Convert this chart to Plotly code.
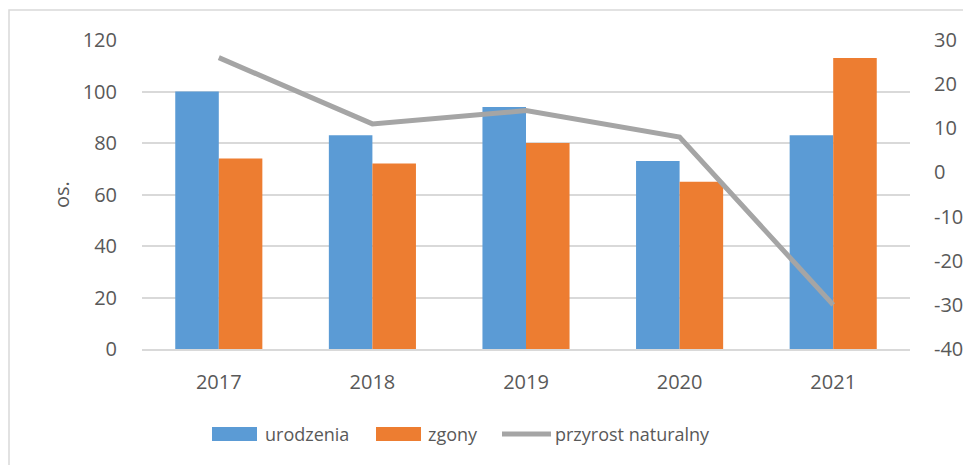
import plotly.graph_objects as go

years = ["2017", "2018", "2019", "2020", "2021"]
urodzenia = [100, 83, 94, 73, 83]
zgony = [74, 72, 80, 65, 113]
przyrost = [26, 11, 14, 8, -30]
left_ticks = [0, 20, 40, 60, 80, 100, 120]
right_ticks = [-40, -30, -20, -10, 0, 10, 20, 30]

# page has an 8px body margin; figure coordinates below are relative to the figure
W, H = 963, 457
L, R, T, B = 134, 61, 32, 116
pw, ph = W - L - R, H - T - B

def px(x):
    return (x - L) / pw

def py(y):
    return (H - B - y) / ph

tickfont = dict(family="Open Sans, Liberation Sans, sans-serif", size=20, color="#595959")
legfont = dict(family="Open Sans, Liberation Sans, sans-serif", size=18, color="#595959")

colors = {"urodzenia": "#5B9BD5", "zgony": "#ED7D31", "przyrost naturalny": "#A5A5A5"}

fig = go.Figure()
fig.add_trace(go.Bar(x=years, y=urodzenia, name="urodzenia",
                     marker=dict(color=colors["urodzenia"], line=dict(width=0))))
fig.add_trace(go.Bar(x=years, y=zgony, name="zgony",
                     marker=dict(color=colors["zgony"], line=dict(width=0))))
fig.add_trace(go.Scatter(x=years, y=przyrost, name="przyrost naturalny", mode="lines",
                         line=dict(color=colors["przyrost naturalny"], width=5), yaxis="y2"))

shapes = [dict(type="rect", xref="paper", yref="paper",
               x0=px(1), x1=px(990), y0=py(490), y1=py(2),
               line=dict(color="#D9D9D9", width=1.5), fillcolor="rgba(0,0,0,0)", layer="below")]
annotations = [dict(text="os.", xref="paper", yref="paper", x=px(54), y=py(187),
                    showarrow=False, textangle=-90, font=tickfont,
                    xanchor="center", yanchor="middle")]

# custom legend
leg_y = 426
leg_items = [
    ("urodzenia", "rect", 204, 249, 255),
    ("zgony", "rect", 368, 413, 418),
    ("przyrost naturalny", "line", 494, 543, 545),
]
for name, kind, x0, x1, tx in leg_items:
    if kind == "rect":
        shapes.append(dict(type="rect", xref="paper", yref="paper",
                           x0=px(x0), x1=px(x1), y0=py(leg_y + 7), y1=py(leg_y - 7),
                           fillcolor=colors[name], line=dict(width=0)))
    else:
        shapes.append(dict(type="line", xref="paper", yref="paper",
                           x0=px(x0), x1=px(x1), y0=py(leg_y), y1=py(leg_y),
                           line=dict(color=colors[name], width=5)))
    annotations.append(dict(text=name, xref="paper", yref="paper", x=px(tx), y=py(leg_y),
                            showarrow=False, xanchor="left", yanchor="middle", font=legfont))

fig.update_layout(
    width=W, height=H,
    margin=dict(l=L, r=R, t=T, b=B, autoexpand=False),
    paper_bgcolor="white", plot_bgcolor="white",
    font=tickfont,
    barmode="group", bargap=0.433, bargroupgap=0,
    xaxis=dict(showgrid=False, showline=True, linecolor="#D9D9D9", linewidth=2,
               ticks="", ticklabelstandoff=14, tickfont=tickfont),
    yaxis=dict(range=[0, 120], tickvals=left_ticks, ticktext=[str(v) for v in left_ticks],
               showgrid=True, gridcolor="#D9D9D9", gridwidth=2,
               zeroline=False, showline=False, ticks="", ticklabelstandoff=24, tickfont=tickfont),
    yaxis2=dict(range=[-40, 30], tickvals=right_ticks, ticktext=[str(v) for v in right_ticks],
                overlaying="y", side="right", showgrid=False,
                zeroline=False, showline=False, ticks="", ticklabelstandoff=23, tickfont=tickfont),
    showlegend=False,
    shapes=shapes,
    annotations=annotations,
)

fig.write_html("out.html")
